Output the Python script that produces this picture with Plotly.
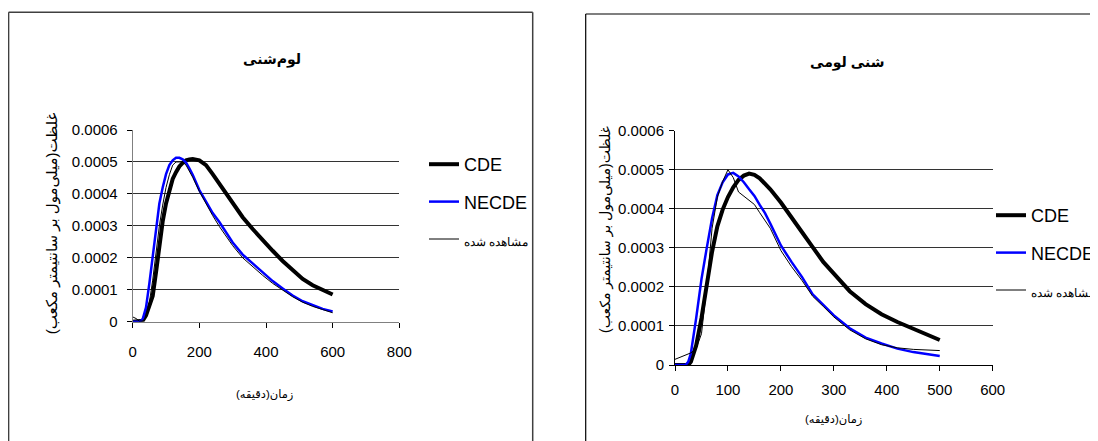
import plotly.graph_objects as go

# browser window is 1098x441; page body has an 8px margin, so the figure is 1090x433
WIN_W, WIN_H = 1098, 441
OFF = 8
W, H = WIN_W - OFF, WIN_H - OFF

# ---------------- data ----------------
time_left = [0, 10, 20, 30, 40, 50, 60, 70, 80, 90, 100, 110, 120, 130, 140, 150, 160, 170, 180,
             200, 220, 240, 260, 280, 300, 330, 360, 390, 420, 450, 480, 510, 540, 570, 600]
cde_left = [0, 0, 0, 0.000003, 0.00002, 0.000047, 0.00008, 0.000155, 0.00024, 0.000314, 0.00037,
            0.00041, 0.000447, 0.000468, 0.000486, 0.000497, 0.000505, 0.000508, 0.000509,
            0.000505, 0.00049, 0.000462, 0.000432, 0.0004, 0.00037, 0.000327, 0.00029, 0.000254,
            0.000222, 0.00019, 0.00016, 0.000134, 0.000114, 0.000099, 0.000085]
necde_left = [0, 0, 0, 0.000008, 0.000045, 0.00012, 0.00021, 0.0003, 0.00037, 0.00042, 0.000462,
              0.00049, 0.000505, 0.000513, 0.000513, 0.000508, 0.000498, 0.00048, 0.00046,
              0.000412, 0.000375, 0.00034, 0.000312, 0.00028, 0.000248, 0.00021, 0.000182,
              0.000152, 0.000127, 0.000104, 0.000082, 0.000064, 0.000051, 0.00004, 0.000032]
obs_left = [0.000015, 0.00001, 0.000002, 0.000002, 0.000015, 0.00006, 0.00013, 0.00022, 0.0003,
            0.000365, 0.00042, 0.00046, 0.00049, 0.0005, 0.000501, 0.0005, 0.00049, 0.000472,
            0.000452, 0.000408, 0.000368, 0.000332, 0.000298, 0.000266, 0.000238, 0.0002,
            0.000172, 0.000145, 0.00012, 0.000098, 0.000078, 0.000061, 0.000048, 0.000038, 0.000028]

time_right = [0, 10, 20, 25, 30, 40, 50, 60, 70, 80, 90, 100, 110, 120, 130, 140, 150, 160, 170,
              180, 200, 220, 240, 260, 280, 300, 330, 360, 390, 420, 450, 480, 500]
cde_right = [0, 0, 0, 0, 0.000008, 0.00005, 0.00012, 0.00021, 0.00029, 0.000355, 0.000398,
             0.00043, 0.000455, 0.000474, 0.000485, 0.00049, 0.000487, 0.000478, 0.000465,
             0.00045, 0.000416, 0.00038, 0.00034, 0.000302, 0.000264, 0.000234, 0.000189,
             0.000156, 0.00013, 0.00011, 0.000093, 0.000077, 0.000064]
necde_right = [0, 0, 0, 0.000008, 0.00003, 0.00012, 0.00022, 0.0003, 0.000376, 0.000435, 0.000468,
               0.000488, 0.000492, 0.000483, 0.000468, 0.00045, 0.000433, 0.00041, 0.000389,
               0.000362, 0.000306, 0.000264, 0.000225, 0.000181, 0.000155, 0.000127, 0.000094,
               0.00007, 0.000055, 0.000042, 0.000033, 0.000027, 0.000023]
obs_right = [0.0000145, 0.00002, 0.000026, 0.000029, 0.000031, 0.000042, 0.00008, 0.0002, 0.00035,
             0.00043, 0.00047, 0.0005, 0.00048, 0.000443, 0.000432, 0.000422, 0.000411, 0.00039,
             0.000371, 0.00035, 0.000293, 0.000252, 0.000216, 0.000176, 0.00015, 0.000123,
             0.00009, 0.000067, 0.000052, 0.000044, 0.00004, 0.000038, 0.000037]

y_tickvals = [0, 0.0001, 0.0002, 0.0003, 0.0004, 0.0005, 0.0006]
y_ticktext = ["0", "0.0001", "0.0002", "0.0003", "0.0004", "0.0005", "0.0006"]
x_left_ticks = [0, 200, 400, 600, 800]
x_right_ticks = [0, 100, 200, 300, 400, 500, 600]

series_names = ["CDE", "NECDE", "مشاهده شده"]
title_left = "لوم‌شنی"
title_right = "شنی لومی"
x_title = "زمان(دقیقه)"
y_title = "غلظت(میلی‌مول بر سانتیمتر مکعب)"

# ---------------- helpers (window pixel -> paper fraction) ----------------
def px(x):
    return (x - OFF) / W

def py(y):
    return (WIN_H - y) / H

TICK_FONT = dict(family="Liberation Sans, Arial", size=15, color="#000")
LEG_FONT = dict(family="Liberation Sans, Arial", size=18, color="#000")
FA_FONT = "Liberation Sans, DejaVu Sans, Arial"

fig = go.Figure()

styles = [dict(color="#000000", width=4), dict(color="#0000ff", width=2.5), dict(color="#000000", width=1)]
leg_names = [series_names[0], series_names[1],
             '<span style="font-size:12px">' + series_names[2] + '</span>']

for i, ys in enumerate([cde_left, necde_left, obs_left]):
    fig.add_trace(go.Scatter(x=time_left, y=ys, mode="lines", name=leg_names[i], line=styles[i],
                             xaxis="x", yaxis="y", legend="legend", legendgroup="L%d" % i))
for i, ys in enumerate([cde_right, necde_right, obs_right]):
    fig.add_trace(go.Scatter(x=time_right, y=ys, mode="lines", name=leg_names[i], line=styles[i],
                             xaxis="x2", yaxis="y2", legend="legend2", legendgroup="R%d" % i))

common_y = dict(range=[0, 0.0006], tickvals=y_tickvals, ticktext=y_ticktext, ticks="outside",
                ticklen=5, tickcolor="#000", showgrid=True, gridcolor="#333333", gridwidth=1,
                showline=True, zeroline=False, tickfont=TICK_FONT, fixedrange=True)
common_x = dict(ticks="outside", ticklen=5, tickcolor="#000", showgrid=False, showline=True,
                zeroline=False, tickfont=TICK_FONT, fixedrange=True)

fig.update_layout(
    width=W, height=H,
    margin=dict(l=0, r=0, t=0, b=0, autoexpand=False),
    paper_bgcolor="white", plot_bgcolor="white",
    xaxis=dict(common_x, domain=[px(132.7), px(399.3)], range=[0, 800], tickvals=x_left_ticks,
               anchor="y", linecolor="#808080", ticklabelstandoff=11),
    yaxis=dict(common_y, domain=[py(321.7), py(130)], anchor="x", linecolor="#808080",
               ticklabelstandoff=6),
    xaxis2=dict(common_x, domain=[px(675), px(992.7)], range=[0, 600], tickvals=x_right_ticks,
                anchor="y2", linecolor="#000", ticklabelstandoff=6),
    yaxis2=dict(common_y, domain=[py(365), py(130.7)], anchor="x2", linecolor="#000",
                ticklabelstandoff=2),
    legend=dict(x=px(424), y=py(146), xanchor="left", yanchor="top", font=LEG_FONT,
                bgcolor="rgba(0,0,0,0)", tracegroupgap=11, itemclick=False),
    legend2=dict(x=px(991), y=py(197), xanchor="left", yanchor="top", font=LEG_FONT,
                 bgcolor="rgba(0,0,0,0)", tracegroupgap=11, itemclick=False),
)

annots = [
    dict(text="<b>" + title_left + "</b>", x=px(272), y=py(60), size=14),
    dict(text="<b>" + title_right + "</b>", x=px(847), y=py(62), size=14),
    dict(text=x_title, x=px(264), y=py(395), size=11.5),
    dict(text=x_title, x=px(833), y=py(420), size=11.5),
]
for a in annots:
    fig.add_annotation(text=a["text"], x=a["x"], y=a["y"], xref="paper", yref="paper",
                       showarrow=False, xanchor="center", yanchor="middle",
                       font=dict(family=FA_FONT, size=a["size"], color="#000"))
for xx, yy, sz in [(51.7, 223.5, 15), (605, 230, 14)]:
    fig.add_annotation(text=y_title, x=px(xx), y=py(yy), xref="paper", yref="paper",
                       showarrow=False, textangle=-90, xanchor="center", yanchor="middle",
                       font=dict(family=FA_FONT, size=sz, color="#000"))

# panel frames
fig.add_shape(type="line", xref="paper", yref="paper", x0=px(8.6), x1=px(8.6), y0=py(12.3), y1=-0.05,
              line=dict(color="#404040", width=1.5))
fig.add_shape(type="line", xref="paper", yref="paper", x0=px(8.6), x1=px(532.7), y0=py(12.3), y1=py(12.3),
              line=dict(color="#404040", width=1.5))
fig.add_shape(type="line", xref="paper", yref="paper", x0=px(532.7), x1=px(532.7), y0=py(12.3), y1=-0.05,
              line=dict(color="#404040", width=1.5))
fig.add_shape(type="line", xref="paper", yref="paper", x0=px(585.7), x1=px(585.7), y0=py(14), y1=-0.05,
              line=dict(color="#000", width=1.2))
fig.add_shape(type="line", xref="paper", yref="paper", x0=px(585.7), x1=1.05, y0=py(14), y1=py(14),
              line=dict(color="#000", width=1.2))

fig.write_html("out.html", config={"displayModeBar": False})
